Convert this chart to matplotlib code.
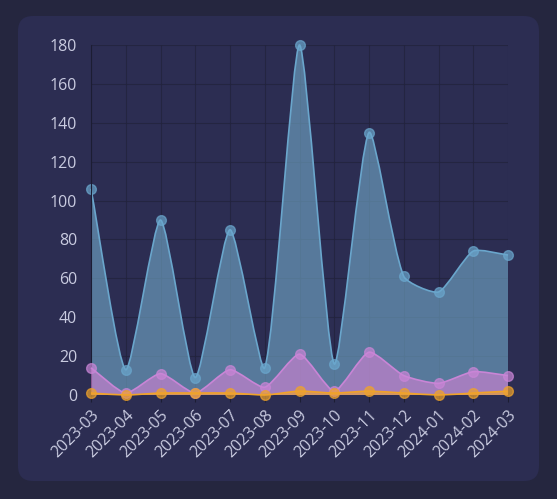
import numpy as np
import matplotlib.pyplot as plt
from matplotlib.path import Path
from matplotlib.patches import PathPatch, FancyBboxPatch

months = ['2023-03', '2023-04', '2023-05', '2023-06', '2023-07', '2023-08', '2023-09',
          '2023-10', '2023-11', '2023-12', '2024-01', '2024-02', '2024-03']
blue_vals = [106, 13, 90, 9, 85, 14, 180, 16, 135, 61, 53, 74, 72]
pink_vals = [14, 1, 11, 1, 13, 4, 21, 2, 22, 10, 6, 12, 10]
orange_vals = [1, 0, 1, 1, 1, 0, 2, 1, 2, 1, 0, 1, 2]
y_ticks = [0, 20, 40, 60, 80, 100, 120, 140, 160, 180]

W, H = 557, 499
plt.rcParams['font.family'] = ['Open Sans', 'DejaVu Sans']
fig = plt.figure(figsize=(W / 100, H / 100), dpi=100)
fig.patch.set_facecolor('#25263f')

# background panel, drawn in pixel units
bg = fig.add_axes([0, 0, 1, 1])
bg.set_xlim(0, W)
bg.set_ylim(0, H)
bg.axis('off')
bg.add_patch(FancyBboxPatch((18, 18), 521, 465, boxstyle='round,pad=0,rounding_size=15',
                            fc='#2c2d52', ec='none'))

ax = fig.add_axes([91 / W, 1 - 395 / H, (508 - 91) / W, (395 - 45) / H])
ax.set_facecolor('none')
x = np.arange(len(months))
ax.set_xlim(0, len(months) - 1)
ax.set_ylim(0, 180)


def spline(xs, ys, tension=0.2):
    # bezier curve through the points, control points in pixel space
    pts = ax.transData.transform(np.column_stack([xs, ys]))
    bb = ax.bbox
    n = len(pts)
    cps = []
    for i in range(n):
        prev = pts[max(i - 1, 0)]
        cur = pts[i]
        nxt = pts[min(i + 1, n - 1)]
        d01 = np.hypot(*(cur - prev))
        d12 = np.hypot(*(nxt - cur))
        tot = d01 + d12
        s01 = d01 / tot if tot else 0
        s12 = d12 / tot if tot else 0
        cp = cur - tension * s01 * (nxt - prev)
        cn = cur + tension * s12 * (nxt - prev)
        cp[1] = np.clip(cp[1], bb.y0, bb.y1)
        cn[1] = np.clip(cn[1], bb.y0, bb.y1)
        cps.append((cp, cn))
    verts = [pts[0]]
    codes = [Path.MOVETO]
    for i in range(1, n):
        verts += [cps[i - 1][1], cps[i][0], pts[i]]
        codes += [Path.CURVE4] * 3
    verts = ax.transData.inverted().transform(np.array(verts))
    return verts, codes


def draw(vals, fill_col, line_col, z):
    verts, codes = spline(x, vals)
    fverts = np.vstack([verts, [[x[-1], 0], [x[0], 0], [x[0], 0]]])
    fcodes = codes + [Path.LINETO, Path.LINETO, Path.CLOSEPOLY]
    ax.add_patch(PathPatch(Path(fverts, fcodes), fc=fill_col, ec='none', zorder=z))
    ax.add_patch(PathPatch(Path(verts, codes), fc='none', ec=line_col, lw=1.2, zorder=z + 0.1,
                           clip_on=False))
    ax.plot(x, vals, 'o', ms=7, mfc=line_col, mec=line_col, alpha=0.7, mew=1,
            zorder=z + 0.2, clip_on=False)


draw(blue_vals, (117 / 255, 173 / 255, 205 / 255, 0.6), '#6aa6cc', 2)
draw(pink_vals, (215 / 255, 130 / 255, 214 / 255, 0.6), '#c985d6', 3)
draw(orange_vals, (245 / 255, 166 / 255, 35 / 255, 0.6), '#f0a32a', 4)

ax.set_xticks(x)
ax.set_xticklabels(months, rotation=45, ha='right', rotation_mode='anchor')
ax.set_yticks(y_ticks)
ax.grid(True, color='#22233d', lw=0.8, alpha=0.8)
ax.set_axisbelow(True)
for s in ['top', 'right', 'bottom']:
    ax.spines[s].set_visible(False)
ax.spines['left'].set_color('#1c1d33')
ax.tick_params(colors='#1c1d33', labelcolor='#c9cbe0', labelsize=11.5, length=5, width=0.8)
ax.tick_params(axis='y', length=0, pad=10)
ax.tick_params(axis='x', pad=4)

fig.savefig('out.png', dpi=100, facecolor=fig.get_facecolor())
